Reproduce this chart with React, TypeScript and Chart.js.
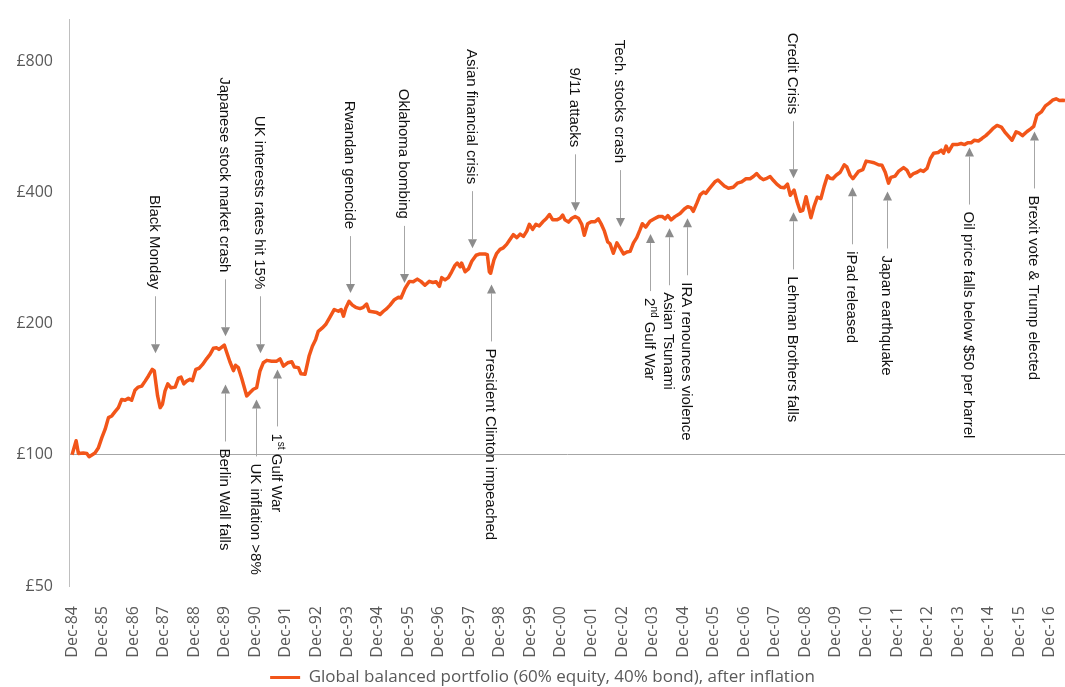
import React, { useEffect, useRef } from 'react';
import { Chart, registerables } from 'chart.js';

Chart.register(...registerables);

// X tick labels, one per December (12 months apart, month 0 = Dec-84)
const tickLabels = [
  'Dec-84', 'Dec-85', 'Dec-86', 'Dec-87', 'Dec-88', 'Dec-89', 'Dec-90', 'Dec-91',
  'Dec-92', 'Dec-93', 'Dec-94', 'Dec-95', 'Dec-96', 'Dec-97', 'Dec-98', 'Dec-99',
  'Dec-00', 'Dec-01', 'Dec-02', 'Dec-03', 'Dec-04', 'Dec-05', 'Dec-06', 'Dec-07',
  'Dec-08', 'Dec-09', 'Dec-10', 'Dec-11', 'Dec-12', 'Dec-13', 'Dec-14', 'Dec-15', 'Dec-16',
];

const yTicks = [50, 100, 200, 400, 800];

const seriesLabel = 'Global balanced portfolio (60% equity, 40% bond), after inflation';

// Months since Dec-84
const months = [
  0, 1.6, 2.5, 4.4, 5.8, 6.7, 9, 10.3, 11.7, 13, 14.3, 15.6, 16.9, 18.2, 19.5, 20.8, 22.1, 23.4,
  24.7, 26, 27.4, 28.7, 30, 31.5, 32.3, 33.6, 34.6, 35.5, 36.5, 37.6, 38.9, 40.5, 41.8, 42.8,
  43.9, 45, 46.3, 47.3, 48.6, 49.9, 51.2, 52.9, 54.2, 55.5, 56.8, 57.7, 58.8, 59.8, 60.8, 62,
  63.4, 64.2, 65.3, 66.6, 68.6, 69.9, 71.2, 72.5, 73.8, 75.1, 76.5, 78.4, 80.4, 81.7, 83, 84.7,
  86.3, 87.3, 88.9, 89.9, 91.5, 93.1, 94.4, 95.7, 96.7, 98.3, 99.6, 101.3, 103, 104.6, 105.7,
  106.6, 107.5, 108.8, 110.1, 111.4, 113.1, 114.4, 115.7, 116.7, 118, 119.7, 121, 122.3, 123.6,
  124.9, 126.6, 128.2, 129.2, 130.8, 132.5, 134, 135.6, 137, 138.6, 140.3, 141.7, 143, 144.3,
  145.2, 146.5, 147.8, 149.1, 150.4, 151.3, 152.4, 153, 154.4, 155.7, 157, 158.7, 160.2, 162.2,
  163.1, 163.9, 164.4, 165.7, 166.8, 168.1, 169.4, 170.7, 172, 173.3, 174.7, 176, 177.3, 178.6,
  179.6, 180.9, 182.2, 183.5, 184.9, 186.2, 187.5, 188.8, 190.4, 191.7, 192.7, 193.6, 195, 196.3,
  197.6, 198.9, 200.2, 201.2, 202.5, 203.9, 205.4, 206.7, 207.8, 209.1, 210.4, 211.3, 212.6, 214,
  215.2, 216.6, 217.9, 219.2, 220.5, 221.8, 223.1, 224, 225.3, 227, 228.7, 230.3, 231.9, 232.9,
  234, 235.3, 236.8, 238.8, 240.5, 241.8, 243.1, 244, 245.4, 246.7, 248, 248.9, 250, 251.2, 252.5,
  253.7, 256.2, 257.8, 259.7, 261.3, 263, 264.7, 266.3, 267.6, 268.9, 270.2, 271.5, 272.9, 274.2,
  275.5, 276.8, 278.4, 279.7, 281, 282.1, 283.6, 284.7, 286, 287, 288.3, 289.2, 290.2, 291.4,
  292.7, 294.1, 295.4, 296.7, 297.7, 298.8, 300.1, 301.7, 303.3, 304.3, 305.6, 306.7, 307.6,
  308.9, 310.6, 311.9, 313.5, 315, 316.7, 318.1, 319.4, 320.7, 321.6, 323.3, 324.6, 326.6, 327.9,
  329.2, 330.5, 331.9, 333.2, 334.4, 335.8, 337.1, 338.4, 340.2, 341.4, 342.3, 343.3, 344.3,
  345.9, 347.6, 349.2, 350.5, 351.8, 353.1, 354.4, 356, 357.4, 358.9, 360.6, 361.9, 363.3, 365,
  366.3, 367.6, 369.2, 370.8, 372, 373.3, 375.1, 376.4, 377.7, 379, 380.7, 382.3, 383.8, 385.1,
  386.5, 387.8, 389.1, 390,
];

// Portfolio value (£), after inflation
const values = [
  100, 107.7, 100.7, 101, 100.7, 99, 101, 103.6, 109.5, 114.5, 121.7, 122.8, 125.6, 128.3, 134,
  133.4, 134.8, 133.4, 140.6, 143, 143.8, 147.6, 151.7, 157, 155.7, 136.5, 128.3, 130.6, 140,
  145.5, 142.5, 143, 150, 150.8, 145.5, 147.6, 149, 148, 157, 158, 161, 166.3, 170, 175.5, 176,
  174.5, 176.6, 178.5, 171.5, 163.5, 156, 160.5, 158.5, 150, 136.5, 139, 141.4, 142.5, 155.7,
  162.6, 164.7, 164, 164, 166, 159.8, 162.6, 163.5, 159, 158.5, 153.5, 153, 168.5, 177.5, 184,
  192, 195.5, 199, 207, 215.5, 213.5, 215.5, 208, 217, 225, 220.5, 218, 216.5, 218, 221.8,
  213.5, 213, 212, 210, 213.5, 216.5, 220.5, 227, 230, 229, 241, 250, 249.5, 253, 250, 245, 250,
  248.5, 249.5, 243.5, 255, 252, 255, 263, 272, 275.5, 270, 275.5, 263, 267, 278, 287, 289, 289,
  288, 263, 261, 280, 290, 296, 298.5, 304, 312, 320, 315, 321, 317, 326, 338, 329, 338, 335,
  342.5, 348, 356, 346, 346, 349, 355, 346, 342, 349, 352, 349, 338, 319, 339, 342.5, 342.5, 348,
  339, 326, 308, 305, 290, 306.5, 298.5, 289, 292, 293, 306.5, 315, 328.5, 339, 333, 343.5, 348,
  352, 352, 348, 354, 346, 352, 358, 366.5, 371, 369, 362, 378, 395, 401, 398, 406, 414, 423,
  427, 414, 409, 411, 420, 423, 430, 430, 435, 442, 433, 428, 431, 435, 426, 418, 411, 410, 418,
  394, 405, 382, 362, 364, 391, 371, 350, 371, 390, 387, 413, 437, 431, 430, 438, 445, 463, 458,
  438, 430, 437, 447, 451, 472, 470, 468, 463, 462, 445, 420, 433, 436, 447, 456, 450, 435, 442,
  445, 450, 447, 454, 478, 492, 494, 500, 492, 511, 496, 515, 515, 518, 515, 520, 520, 527, 525,
  532, 540, 552, 562, 570, 565, 551, 540, 527, 551, 547, 540, 552, 559, 567, 602, 612, 632, 641,
  651, 656, 650, 651, 650,
];

// Event annotations (^...^ marks superscript)
const eventTexts = [
  'Black Monday', 'Japanese stock market crash', 'UK interests rates hit 15%', 'Rwandan genocide',
  'Oklahoma bombing', 'Asian financial crisis', '9/11 attacks', 'Tech. stocks crash', 'Credit Crisis',
  'Berlin Wall falls', 'UK inflation >8%', '1^st^ Gulf War', 'President Clinton impeached',
  '2^nd^ Gulf War', 'Asian Tsunami', 'IRA renounces violence', 'Lehman Brothers falls',
  'iPad released', 'Japan earthquake', 'Oil price falls below $50 per barrel', 'Brexit vote & Trump elected',
];
const eventMonths = [
  32.6, 60.1, 73.8, 109.2, 130.4, 157.1, 197.6, 215.2, 283.2,
  60.1, 72.3, 80.5, 164.6, 227, 234.5, 241.6, 283.2, 306.4, 320.1, 352.3, 377.8,
];
const eventTips = [
  171, 187, 171, 235, 248, 298, 362, 333, 431,
  145, 134, 157, 246, 321, 331, 349, 360, 411, 402, 507, 552,
];
const eventSides = [
  'above', 'above', 'above', 'above', 'above', 'above', 'above', 'above', 'above',
  'below', 'below', 'below', 'below', 'below', 'below', 'below', 'below', 'below', 'below', 'below', 'below',
];

const ORANGE = '#F25519';

const eventsPlugin = {
  id: 'eventsPlugin',
  afterLayout(chart: any) {
    // nudge the legend so it is centred a little right of the canvas middle
    if (chart.legend) chart.legend.left += 20;
  },
  afterDatasetsDraw(chart: any) {
    const { ctx, scales } = chart;
    const xs = scales.x;
    const ys = scales.y;
    const L = 57;
    const headH = 9;
    const headW = 4.5;
    const gap = 7;
    const mainFont = '15px "Liberation Sans", Arial, sans-serif';
    const supFont = '10px "Liberation Sans", Arial, sans-serif';
    ctx.save();
    eventTexts.forEach((text, i) => {
      const px = Math.round(xs.getPixelForValue(eventMonths[i]));
      const tipY = ys.getPixelForValue(eventTips[i]);
      const above = eventSides[i] === 'above';
      const dir = above ? -1 : 1;
      ctx.strokeStyle = '#A6A6A6';
      ctx.lineWidth = 1;
      ctx.beginPath();
      ctx.moveTo(px + 0.5, tipY + dir * headH);
      ctx.lineTo(px + 0.5, tipY + dir * L);
      ctx.stroke();
      ctx.fillStyle = '#8C8C8C';
      ctx.beginPath();
      ctx.moveTo(px + 0.5 - headW, tipY + dir * headH);
      ctx.lineTo(px + 0.5 + headW, tipY + dir * headH);
      ctx.lineTo(px + 0.5, tipY);
      ctx.closePath();
      ctx.fill();
      const parts = text.split('^');
      const segs = parts.map((t, k) => ({ t, sup: k % 2 === 1 })).filter((s) => s.t.length > 0);
      let total = 0;
      const widths = segs.map((s) => {
        ctx.font = s.sup ? supFont : mainFont;
        const w = ctx.measureText(s.t).width;
        total += w;
        return w;
      });
      const anchorY = tipY + dir * (L + gap);
      ctx.save();
      ctx.translate(px + 0.5, anchorY);
      ctx.rotate(Math.PI / 2);
      ctx.fillStyle = '#111111';
      ctx.textAlign = 'left';
      ctx.textBaseline = 'alphabetic';
      let cx = above ? -total : 0;
      segs.forEach((s, k) => {
        ctx.font = s.sup ? supFont : mainFont;
        ctx.fillText(s.t, cx, s.sup ? -0.5 : 5.5);
        cx += widths[k];
      });
      ctx.restore();
    });
    ctx.restore();
  },
};

export default function App() {
  const ref = useRef<HTMLCanvasElement>(null);
  useEffect(() => {
    document.body.style.margin = '0';
    Chart.defaults.font.family = '"Open Sans", "Noto Sans", sans-serif';
    const data = months.map((m, i) => ({ x: m, y: values[i] }));
    const chart = new Chart(ref.current as HTMLCanvasElement, {
      type: 'line',
      data: {
        datasets: [
          {
            label: seriesLabel,
            data,
            borderColor: ORANGE,
            backgroundColor: ORANGE,
            borderWidth: 3.5,
            pointRadius: 0,
            tension: 0,
            fill: false,
            borderJoinStyle: 'round',
          },
        ],
      },
      options: {
        responsive: false,
        animation: false,
        layout: { padding: { left: 0, top: 19, right: 0, bottom: -9 } },
        plugins: {
          tooltip: { enabled: false },
          legend: {
            position: 'bottom',
            labels: {
              boxWidth: 30,
              boxHeight: 3,
              padding: 4,
              color: '#595959',
              font: { size: 17 },
              generateLabels: () => [
                {
                  text: seriesLabel,
                  fillStyle: ORANGE,
                  strokeStyle: ORANGE,
                  lineWidth: 0,
                  hidden: false,
                  datasetIndex: 0,
                  fontColor: '#595959',
                } as any,
              ],
            },
          },
        },
        scales: {
          x: {
            type: 'linear',
            min: -1.2,
            max: 390,
            grid: { display: false },
            border: { display: false },
            afterBuildTicks: (s: any) => {
              s.ticks = tickLabels.map((_, i) => ({ value: i * 12 }));
            },
            afterFit: (s: any) => {
              s.height = 79;
              s.paddingLeft = 0;
              s.paddingRight = 0;
            },
            ticks: {
              autoSkip: false,
              maxRotation: 90,
              minRotation: 90,
              padding: 12,
              color: '#595959',
              font: { size: 16 },
              callback: (_v: any, i: number) => tickLabels[i],
            },
          },
          y: {
            type: 'logarithmic',
            min: 50,
            max: 1000,
            afterBuildTicks: (s: any) => {
              s.ticks = yTicks.map((v) => ({ value: v }));
            },
            afterFit: (s: any) => {
              s.width = 69;
              s.paddingTop = 0;
              s.paddingBottom = 0;
            },
            grid: {
              drawTicks: false,
              color: (c: any) => (c.tick && c.tick.value === 100 ? '#A6A6A6' : 'rgba(0,0,0,0)'),
            },
            border: { color: '#BFBFBF' },
            ticks: {
              padding: 16,
              color: '#595959',
              font: { size: 16 },
              callback: (v: any) => '£' + v,
            },
          },
        },
      },
      plugins: [eventsPlugin],
    });
    return () => chart.destroy();
  }, []);
  return (
    <div style={{ width: 1065, height: 687 }}>
      <canvas ref={ref} width={1065} height={687} style={{ display: 'block' }} />
    </div>
  );
}
